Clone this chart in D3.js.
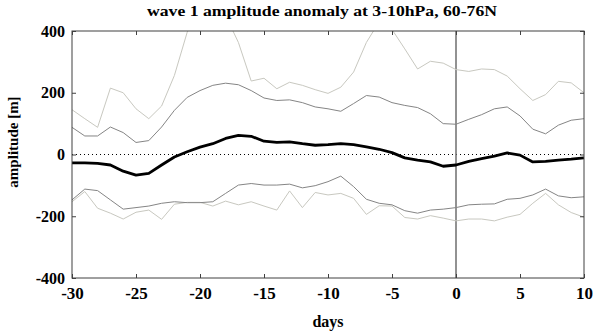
<!DOCTYPE html>
<html>
<head>
<meta charset="utf-8">
<script src="https://cdn.jsdelivr.net/npm/d3@7"></script>
<style>
  body { margin: 0; background: #fff; }
</style>
</head>
<body>
<div id="chart"></div>
<script>
// days -30 .. 10
const days = d3.range(-30, 11)

const upperOuter = [145, 116, 88, 215, 200, 148, 116, 157, 256, 396,
  470, 490, 450, 363, 238, 247, 213, 234, 224, 210,
  198, 218, 267, 363, 430, 405, 342, 277, 302, 296,
  275, 269, 277, 275, 254, 213, 175, 194, 237, 232, 200]
const upperInner = [88, 60, 60, 89, 71, 39, 45, 89, 143, 185,
  207, 224, 231, 226, 207, 183, 175, 177, 168, 154,
  148, 140, 165, 191, 186, 168, 159, 152, 132, 100,
  98, 114, 129, 148, 154, 125, 82, 67, 95, 111, 116]
const mean = [-27, -27, -29, -34, -54, -67, -61, -34, -8, 9,
  24, 35, 52, 62, 59, 43, 39, 41, 35, 30,
  32, 35, 32, 25, 17, 6, -11, -18, -24, -38,
  -34, -22, -13, -5, 5, -2, -24, -22, -18, -15, -11]
const lowerInner = [-147, -112, -117, -147, -177, -172, -167, -158, -153, -156,
  -156, -153, -126, -99, -94, -99, -99, -96, -108, -101,
  -88, -70, -104, -145, -158, -163, -182, -190, -180, -177,
  -172, -163, -161, -160, -145, -142, -131, -112, -134, -140, -137]
const lowerOuter = [-153, -120, -174, -190, -209, -187, -180, -210, -161, -155,
  -155, -167, -151, -163, -153, -167, -180, -118, -172, -123,
  -131, -126, -142, -194, -166, -167, -204, -209, -198, -206,
  -215, -209, -209, -215, -203, -194, -158, -126, -163, -188, -203]

const xTicks = [-30, -25, -20, -15, -10, -5, 0, 5, 10]
const yTicks = [-400, -200, 0, 200, 400]

const width = 598, height = 332
const margin = { top: 31, right: 14, bottom: 54, left: 72 }
const plotW = width - margin.left - margin.right
const plotH = height - margin.top - margin.bottom
const serif = '"Liberation Serif", "Times New Roman", serif'

const svg = d3.select('#chart').append('svg')
  .attr('width', width)
  .attr('height', height)

const plot = svg.append('g')
  .attr('transform', `translate(${margin.left}, ${margin.top})`)

const x = d3.scaleLinear().domain([-30, 10]).range([0, plotW])
const y = d3.scaleLinear().domain([-400, 400]).range([plotH, 0])

// clip lines that run past the top
svg.append('defs').append('clipPath').attr('id', 'clip')
  .append('rect').attr('width', plotW).attr('height', plotH)

// zero line
plot.append('line')
  .attr('x1', 0).attr('x2', plotW)
  .attr('y1', y(0)).attr('y2', y(0))
  .attr('stroke', '#000')
  .attr('stroke-width', 1)
  .attr('stroke-dasharray', '1,3')

// day 0 marker
plot.append('line')
  .attr('x1', x(0)).attr('x2', x(0))
  .attr('y1', 0).attr('y2', plotH)
  .attr('stroke', '#6e6e6e')
  .attr('stroke-width', 1.5)

const line = d3.line()
  .x((d, i) => x(days[i]))
  .y(d => y(d))

const series = [
  { values: upperOuter, color: '#c8c8c0', width: 1 },
  { values: lowerOuter, color: '#c8c8c0', width: 1 },
  { values: upperInner, color: '#858585', width: 1 },
  { values: lowerInner, color: '#858585', width: 1 },
  { values: mean, color: '#000', width: 2.8 }
]

plot.append('g').attr('clip-path', 'url(#clip)')
  .selectAll('path')
  .data(series)
  .enter().append('path')
    .attr('d', d => line(d.values))
    .attr('fill', 'none')
    .attr('stroke', d => d.color)
    .attr('stroke-width', d => d.width)
    .attr('stroke-linejoin', 'round')

// axes, ticks pointing inward on all four sides
const axisStyle = (g, size) => {
  g.attr('font-family', null).attr('font-size', null)
  g.select('.domain').remove()
  g.selectAll('.tick line').attr('stroke', '#404040')
  g.selectAll('.tick text')
    .attr('fill', '#000')
    .style('font-family', serif)
    .style('font-weight', 'bold')
    .style('font-size', size + 'px')
}
const fmt = d => String(d)

plot.append('g')
  .attr('transform', `translate(0, ${plotH})`)
  .call(d3.axisBottom(x).tickValues(xTicks).tickSize(-4).tickPadding(9).tickFormat(fmt))
  .call(axisStyle, 17)

plot.append('g')
  .call(d3.axisTop(x).tickValues(xTicks).tickSize(-4).tickFormat(''))
  .call(axisStyle, 10)

plot.append('g')
  .call(d3.axisLeft(y).tickValues(yTicks).tickSize(-4).tickPadding(7).tickFormat(fmt))
  .call(axisStyle, 16)

plot.append('g')
  .attr('transform', `translate(${plotW}, 0)`)
  .call(d3.axisRight(y).tickValues(yTicks).tickSize(-4).tickFormat(''))
  .call(axisStyle, 10)

// frame
plot.append('rect')
  .attr('width', plotW).attr('height', plotH)
  .attr('fill', 'none')
  .attr('stroke', '#404040')
  .attr('stroke-width', 1)

const label = (sel, size) => sel
  .attr('text-anchor', 'middle')
  .style('font-family', serif)
  .style('font-weight', 'bold')
  .style('font-size', size + 'px')

svg.append('text')
  .attr('x', 322).attr('y', 16)
  .call(label, 15)
  .attr('textLength', 350)
  .attr('lengthAdjust', 'spacingAndGlyphs')
  .text('wave 1 amplitude anomaly at 3-10hPa, 60-76N')

svg.append('text')
  .attr('x', margin.left + x(-10)).attr('y', 327)
  .call(label, 16)
  .text('days')

svg.append('text')
  .attr('transform', 'translate(18, 142) rotate(-90)')
  .call(label, 15)
  .text('amplitude [m]')
</script>
</body>
</html>
